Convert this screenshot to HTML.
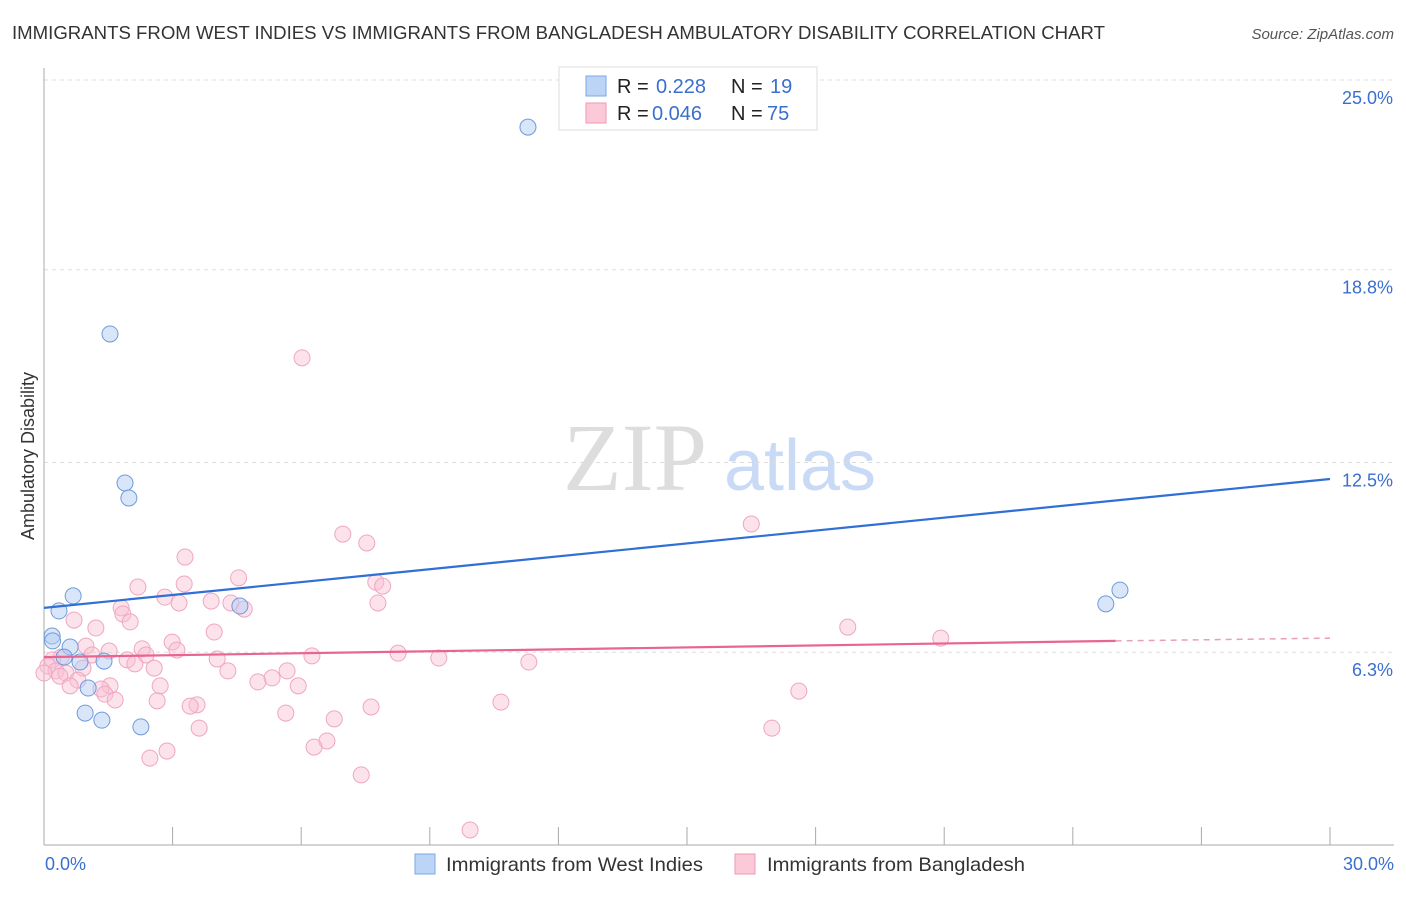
<!DOCTYPE html>
<html><head><meta charset="utf-8"><style>
body{margin:0;background:#fff;font-family:"Liberation Sans",sans-serif;}
</style></head><body>
<svg id="chart" width="1406" height="892" xmlns="http://www.w3.org/2000/svg" font-family="Liberation Sans, sans-serif">
<text x="12" y="39" font-size="18" fill="#333" textLength="1093" lengthAdjust="spacingAndGlyphs">IMMIGRANTS FROM WEST INDIES VS IMMIGRANTS FROM BANGLADESH AMBULATORY DISABILITY CORRELATION CHART</text>
<text x="1394" y="39" font-size="15" fill="#555" text-anchor="end" font-style="italic">Source: ZipAtlas.com</text>
<g><text x="635" y="490" font-size="96" fill="#ddd" font-family="Liberation Serif, serif" text-anchor="middle">ZIP</text><text x="800" y="490" font-size="72" fill="#c8daf5" text-anchor="middle">atlas</text></g>
<g id="grid"></g>
<g id="axes"></g>
<g id="marks"></g>
<text transform="translate(34,456) rotate(-90)" font-size="18" fill="#333" text-anchor="middle">Ambulatory Disability</text>
<g>
<rect x="559" y="67" width="258" height="63" fill="#fff" stroke="#ddd"/>
<rect x="586" y="76" width="20" height="20" fill="#bcd5f7" stroke="#7aa7e6"/>
<text x="617" y="93" font-size="20" fill="#222">R = </text><text x="656" y="93" font-size="20" fill="#3a6fd0">0.228</text>
<text x="731" y="93" font-size="20" fill="#222">N = </text><text x="770" y="93" font-size="20" fill="#3a6fd0">19</text>
<rect x="586" y="103" width="20" height="20" fill="#fbc9d8" stroke="#ef9ab5"/>
<text x="617" y="120" font-size="20" fill="#222">R = </text><text x="652" y="120" font-size="20" fill="#3a6fd0">0.046</text>
<text x="731" y="120" font-size="20" fill="#222">N = </text><text x="767" y="120" font-size="20" fill="#3a6fd0">75</text>
</g>
<g>
<rect x="415" y="854" width="20" height="20" fill="#bcd5f7" stroke="#7aa7e6"/>
<text x="446" y="871" font-size="19.5" fill="#333" textLength="257" lengthAdjust="spacingAndGlyphs">Immigrants from West Indies</text>
<rect x="735" y="854" width="20" height="20" fill="#fbc9d8" stroke="#ef9ab5"/>
<text x="767" y="871" font-size="19.5" fill="#333" textLength="258" lengthAdjust="spacingAndGlyphs">Immigrants from Bangladesh</text>
</g>
</svg>
<script>
const yTicks=[6.3,12.5,18.8,25.0];
const xTickLabels=["0.0%","30.0%"];
const blueX=[11.29,1.54,1.89,1.98,0.68,0.35,0.19,0.2,0.61,0.47,0.84,1.4,1.03,0.96,1.35,2.26,4.57,24.77,25.1];
const blueY=[23.46,16.7,11.83,11.34,8.14,7.65,6.83,6.67,6.47,6.14,5.98,6.01,5.13,4.31,4.08,3.86,7.81,7.88,8.33];
const pinkX=[6.02,16.5,6.97,7.53,3.29,4.54,2.19,3.27,7.74,7.9,2.82,3.9,3.15,7.79,4.36,1.8,4.67,1.84,2.01,0.7,1.21,18.75,3.97,20.92,0.98,2.99,2.29,3.1,1.52,8.26,2.38,1.12,0.4,6.25,0.2,1.94,4.04,9.21,11.31,2.12,0.09,2.57,0.91,0.28,4.29,5.67,0.51,0,0.37,5.32,0.79,4.99,0.61,1.54,2.71,5.93,1.33,1.42,1.66,17.61,2.64,3.57,3.41,10.66,7.63,5.64,6.77,3.62,16.98,6.6,6.3,2.87,2.47,7.4,9.94];
const pinkY=[15.92,10.49,10.16,9.87,9.41,8.73,8.43,8.53,8.59,8.46,8.1,7.97,7.91,7.91,7.91,7.75,7.71,7.55,7.29,7.35,7.09,7.12,6.96,6.76,6.5,6.63,6.41,6.37,6.34,6.27,6.21,6.21,6.14,6.18,6.05,6.05,6.08,6.11,5.98,5.92,5.85,5.78,5.78,5.69,5.69,5.69,5.62,5.62,5.52,5.46,5.39,5.33,5.2,5.2,5.2,5.2,5.1,4.93,4.74,5.03,4.71,4.58,4.54,4.67,4.51,4.31,4.12,3.82,3.82,3.4,3.2,3.07,2.84,2.29,0.49];
const blueLine=[7.75,11.96];
const pinkLine=[6.14,6.67,6.76];
const NS="http://www.w3.org/2000/svg";
const X=v=>44+v*1286/30, Y=v=>845-v*(845-80)/25;
function mk(t,a,p){const e=document.createElementNS(NS,t);for(const k in a)e.setAttribute(k,a[k]);document.getElementById(p).appendChild(e);return e;}
yTicks.forEach(t=>{
 const l=mk('line',{x1:44,x2:1394,y1:Y(t),y2:Y(t),stroke:'#ddd','stroke-dasharray':'4,4'},'grid');
 
 
 const tx=mk('text',{x:1393,y:Y(t)+24,'font-size':18,fill:'#3a6fd0','text-anchor':'end'},'axes');
 tx.textContent=t.toFixed(1)+'%';
 
 
});
let ax=mk('line',{x1:44,x2:44,y1:68,y2:845,stroke:'#aaa'},'axes');


ax=mk('line',{x1:44,x2:1394,y1:845,y2:845,stroke:'#aaa'},'axes');


for(let i=1;i<=10;i++){const t=mk('line',{x1:X(i*3),x2:X(i*3),y1:827,y2:845,stroke:'#aaa'},'axes');
 
 }
[[0,'start',45],[30,'end',1394]].forEach((d,i)=>{const t=mk('text',{x:d[2],y:870,'font-size':18,fill:'#3a6fd0','text-anchor':d[1]},'axes');t.textContent=xTickLabels[i];
 
 });
pinkX.forEach((x,i)=>{const c=mk('circle',{cx:X(x),cy:Y(pinkY[i]),r:8,fill:'rgba(248,190,210,0.45)',stroke:'#f0a6c0','stroke-width':1},'marks');
 
 });
blueX.forEach((x,i)=>{const c=mk('circle',{cx:X(x),cy:Y(blueY[i]),r:8,fill:'rgba(180,205,245,0.5)',stroke:'#6f9bd9','stroke-width':1},'marks');
 
 });
let ln=mk('line',{x1:X(0),y1:Y(blueLine[0]),x2:X(30),y2:Y(blueLine[1]),stroke:'#2f6fd6','stroke-width':2.2},'marks');


ln=mk('line',{x1:X(0),y1:Y(pinkLine[0]),x2:X(25),y2:Y(pinkLine[1]),stroke:'#e8658f','stroke-width':2.2},'marks');


ln=mk('line',{x1:X(25),y1:Y(pinkLine[1]),x2:X(30),y2:Y(pinkLine[2]),stroke:'#e8a0b8','stroke-width':1.5,'stroke-dasharray':'6,5'},'marks');


</script>
</body></html>
